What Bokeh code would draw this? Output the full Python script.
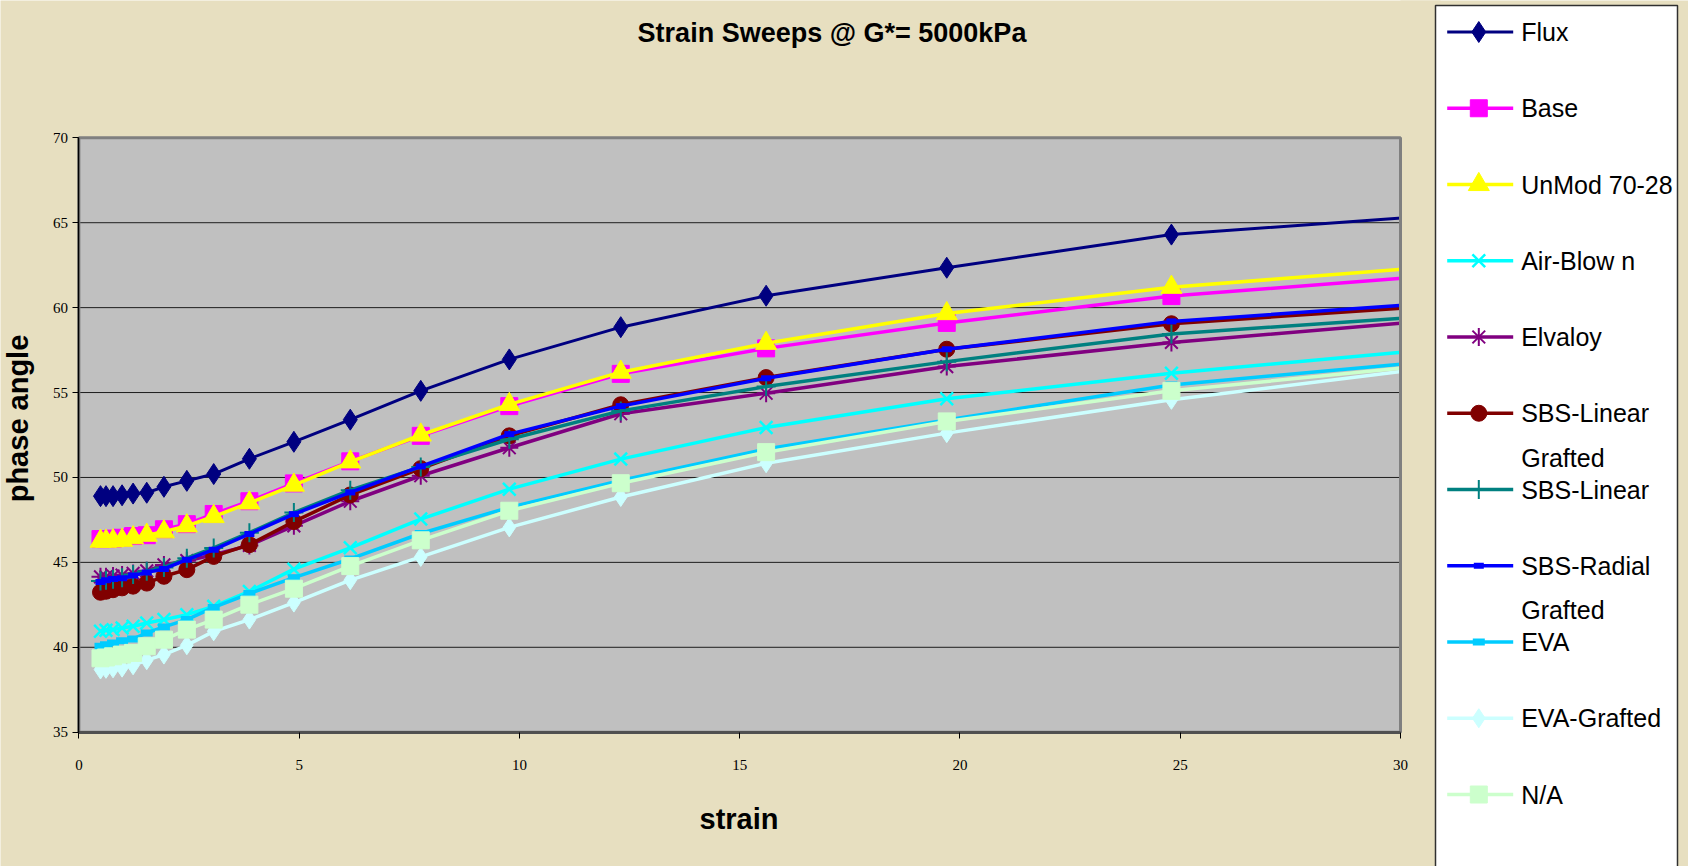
import math
from bokeh.plotting import figure
from bokeh.models import Range1d, Label, FixedTicker, ColumnDataSource
from bokeh.embed import file_html
from bokeh.resources import INLINE
from bokeh.core.properties import value

# ---------------- data ----------------
title_text = "Strain Sweeps @ G*= 5000kPa"
x_label = "strain"
y_label = "phase angle"
x_ticks = [0, 5, 10, 15, 20, 25, 30]
y_ticks = [35, 40, 45, 50, 55, 60, 65, 70]

strain = [0.49, 0.615, 0.775, 0.98, 1.23, 1.54, 1.93, 2.45, 3.06, 3.87, 4.88,
          6.16, 7.76, 9.77, 12.3, 15.6, 19.7, 24.8, 31.2]

flux = [48.9, 48.9, 48.9, 48.95, 49.05, 49.1, 49.45, 49.8, 50.2, 51.1, 52.1,
        53.4, 55.1, 56.95, 58.85, 60.7, 62.35, 64.3, 65.5]
base = [46.37, 46.37, 46.4, 46.45, 46.55, 46.6, 46.95, 47.25, 47.85, 48.6, 49.65,
        50.95, 52.45, 54.2, 56.1, 57.6, 59.1, 60.68, 61.97]
unmod_70_28 = [46.25, 46.25, 46.27, 46.3, 46.45, 46.6, 46.8, 47.15, 47.7, 48.5, 49.55,
               50.92, 52.5, 54.3, 56.2, 57.9, 59.65, 61.2, 62.5]
air_blown = [40.94, 41.0, 41.04, 41.14, 41.24, 41.43, 41.63, 41.92, 42.41, 43.29, 44.6,
             45.86, 47.55, 49.31, 51.08, 52.94, 54.63, 56.14, 57.65]
elvaloy = [44.15, 44.15, 44.2, 44.25, 44.35, 44.5, 44.85, 45.1, 45.45, 46.0, 47.15,
           48.6, 50.1, 51.75, 53.75, 54.96, 56.53, 57.95, 59.34]
sbs_linear_grafted = [43.24, 43.3, 43.39, 43.5, 43.6, 43.78, 44.18, 44.57, 45.35, 46.04, 47.4,
                      48.97, 50.52, 52.45, 54.28, 55.88, 57.55, 59.05, 60.17]
sbs_linear = [43.9, 43.95, 44.0, 44.1, 44.28, 44.48, 44.7, 45.25, 45.85, 46.75, 47.93,
              49.25, 50.62, 52.25, 53.92, 55.35, 56.82, 58.45, 59.58]
sbs_radial_grafted = [43.84, 43.95, 44.02, 44.06, 44.22, 44.41, 44.61, 45.16, 45.75, 46.67, 47.84,
                      49.12, 50.65, 52.55, 54.2, 55.84, 57.55, 59.19, 60.34]
eva = [40.06, 40.15, 40.25, 40.39, 40.49, 40.84, 41.2, 41.63, 42.35, 43.16, 44.1,
       45.2, 46.7, 48.24, 49.83, 51.67, 53.39, 55.45, 56.95]
eva_grafted = [38.69, 38.73, 38.76, 38.8, 38.94, 39.24, 39.57, 40.12, 40.94, 41.63, 42.63,
               43.95, 45.32, 47.06, 48.85, 50.84, 52.61, 54.57, 56.62]
n_a = [39.35, 39.4, 39.47, 39.57, 39.67, 40.06, 40.45, 41.04, 41.63, 42.51, 43.45,
       44.78, 46.3, 48.04, 49.66, 51.49, 53.3, 55.1, 56.74]

legend_labels = ["Flux", "Base", "UnMod 70-28", "Air-Blow n", "Elvaloy",
                 "SBS-Linear\nGrafted", "SBS-Linear", "SBS-Radial\nGrafted",
                 "EVA", "EVA-Grafted", "N/A"]

series_values = [flux, base, unmod_70_28, air_blown, elvaloy, sbs_linear_grafted,
                 sbs_linear, sbs_radial_grafted, eva, eva_grafted, n_a]

# ---------------- styles ----------------
# (color, marker, size, marker line width, series line width)
styles = [
    ("#000080", "diamond", 21, 1, 3),
    ("#FF00FF", "square", 17, 1, 3.5),
    ("#FFFF00", "triangle", 21, 1, 3.5),
    ("#00FFFF", "x", 18, 2.5, 3.5),
    ("#800080", "asterisk", 18, 2, 3.5),
    ("#800000", "circle", 16, 1, 3.5),
    ("#008080", "cross", 19, 2, 3.5),
    ("#0000FF", "dash", 10, 6, 3.5),
    ("#00CCFF", "dash", 12, 7, 3.5),
    ("#CCFFFF", "diamond", 19, 1, 3.5),
    ("#CCFFCC", "square", 17, 1, 3.5),
]
STROKE_ONLY = ("x", "asterisk", "cross", "dash")

BG = "#E7DFC0"
FONT = "Liberation Sans"

# ---------------- canvas geometry (pixels) ----------------
W, H = 1688, 866
X0, Y0 = 78.4, 731.7          # canvas pixel of the plot-area bottom-left corner
KX = 1321.6 / (x_ticks[-1] - x_ticks[0])   # px per strain unit
KY = 594.4 / (y_ticks[-1] - y_ticks[0])    # px per degree


def fx(px):
    return x_ticks[0] + (px - X0) / KX


def fy(py):
    return y_ticks[0] + (Y0 - py) / KY


p = figure(width=W, height=H,
           x_range=Range1d(fx(0), fx(W)), y_range=Range1d(fy(H), fy(0)),
           min_border=0, output_backend="svg", toolbar_location=None)
p.background_fill_color = BG
p.border_fill_color = BG
p.outline_line_color = None
p.grid.visible = False

xmin, xmax = x_ticks[0], x_ticks[-1]
ymin, ymax = y_ticks[0], y_ticks[-1]

# plot area
p.quad(left=[xmin], right=[xmax], bottom=[ymin], top=[ymax],
       fill_color="#C0C0C0", line_color=None)
inner = y_ticks[1:-1]
p.segment(x0=[xmin] * len(inner), y0=inner, x1=[xmax] * len(inner), y1=inner,
          line_color="#000000", line_width=1, line_alpha=0.85)

# series
for vals, (col, mk, sz, mlw, lw) in zip(series_values, styles):
    src = ColumnDataSource(dict(x=strain, y=vals))
    p.line("x", "y", source=src, line_color=col, line_width=lw)
    if mk in STROKE_ONLY:
        p.scatter("x", "y", source=src, marker=mk, size=sz,
                  line_color=col, line_width=mlw)
    else:
        p.scatter("x", "y", source=src, marker=mk, size=sz,
                  fill_color=col, line_color=col, line_width=mlw)

# hide what runs past the right edge of the plot area
p.quad(left=[xmax], right=[fx(1440)], bottom=[fy(H + 10)], top=[fy(-10)],
       fill_color=BG, line_color=None)
p.quad(left=[xmin], right=[xmax], bottom=[ymin], top=[ymax],
       fill_color=None, line_color="#808080", line_width=3)

# axes
p.xaxis.fixed_location = ymin
p.xaxis.bounds = (xmin, xmax)
p.yaxis.fixed_location = xmin
p.yaxis.bounds = (ymin, ymax)
p.xaxis.ticker = FixedTicker(ticks=x_ticks)
p.yaxis.ticker = FixedTicker(ticks=y_ticks)
for ax in (p.xaxis, p.yaxis):
    ax.major_tick_out = 6
    ax.major_tick_in = 0
    ax.minor_tick_out = 0
    ax.minor_tick_in = 0
    ax.major_tick_line_color = "#000000"
    ax.major_label_text_font = "Liberation Serif"
    ax.major_label_text_font_size = "15px"
    ax.major_label_text_color = "#000000"
p.yaxis.axis_line_color = "#000000"
p.yaxis.axis_line_width = 1.5
p.yaxis.major_label_standoff = 5
p.xaxis.axis_line_color = "#505050"
p.xaxis.axis_line_width = 3
p.xaxis.major_label_standoff = 22

# titles
p.add_layout(Label(x=fx(831.5), y=fy(32), text=title_text, text_font=FONT,
                   text_font_size="27px", text_font_style="bold",
                   text_align="center", text_baseline="middle", text_color="#000000"))
p.add_layout(Label(x=fx(738.5), y=fy(818), text=x_label, text_font=FONT,
                   text_font_size="29px", text_font_style="bold",
                   text_align="center", text_baseline="middle", text_color="#000000"))
p.add_layout(Label(x=fx(17), y=fy(418), text=y_label, text_font=FONT,
                   text_font_size="29px", text_font_style="bold", angle=math.pi / 2,
                   text_align="center", text_baseline="middle", text_color="#000000"))

# ---------------- legend ----------------
p.quad(left=[fx(1435)], right=[fx(1677)], top=[fy(5)], bottom=[fy(H + 10)],
       fill_color="white", line_color="#303030", line_width=1.5)

row_y0, row_dy, line_dy = 31.5, 76.25, 44.5
tx, ty, tt = [], [], []
for i, (lab, (col, mk, sz, mlw, lw)) in enumerate(zip(legend_labels, styles)):
    yy = fy(row_y0 + row_dy * i)
    p.line([fx(1446.7), fx(1512.7)], [yy, yy], line_color=col, line_width=lw)
    if mk in STROKE_ONLY:
        p.scatter([fx(1478.3)], [yy], marker=mk, size=sz, line_color=col, line_width=mlw)
    else:
        p.scatter([fx(1478.3)], [yy], marker=mk, size=sz, fill_color=col,
                  line_color=col, line_width=mlw)
    for k, part in enumerate(lab.split("\n")):
        tx.append(fx(1520.7))
        ty.append(fy(row_y0 + row_dy * i + line_dy * k))
        tt.append(part)
p.text(x=tx, y=ty, text=tt, text_font=value(FONT), text_font_size=value("25px"),
       text_baseline="middle", text_align="left", text_color="#000000")

open("out.html", "w").write(file_html(p, INLINE))
